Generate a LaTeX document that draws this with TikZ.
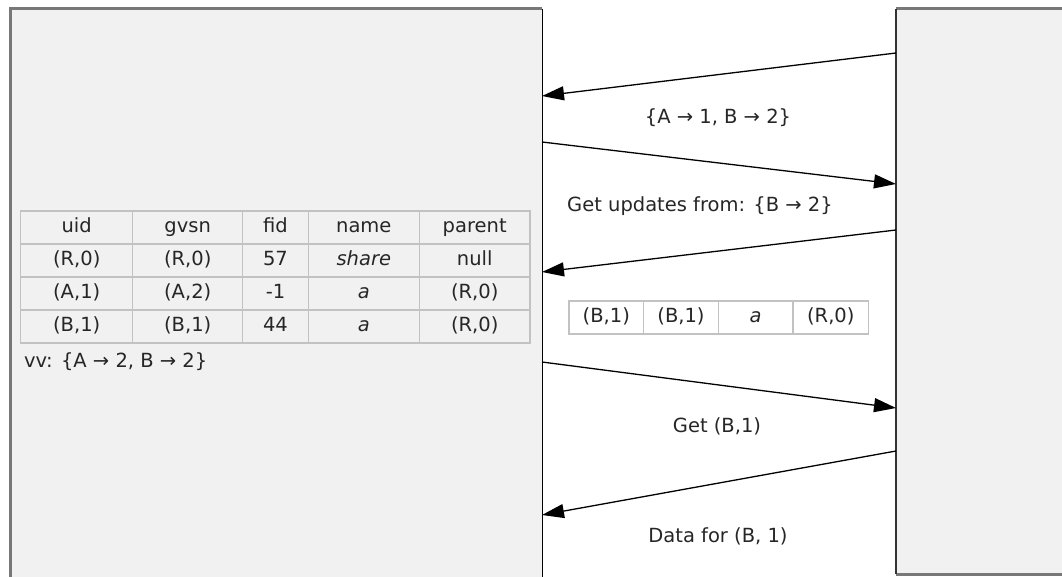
\documentclass[tikz,border=0pt]{standalone}
\usepackage{fontspec}
\setmainfont{DejaVu Sans}
\usetikzlibrary{arrows.meta}
\definecolor{boxfill}{HTML}{F1F1F1}
\definecolor{edgegray}{HTML}{787878}
\definecolor{cellline}{HTML}{C2C2C2}
\definecolor{txt}{HTML}{262626}
\tikzset{
  panel/.style={fill=boxfill, draw=none, inner sep=0pt, anchor=north west},
  cell/.style={draw=cellline, line width=1.5pt, fill=boxfill, inner sep=0pt, minimum height=33pt, text=txt, text height=14pt, text depth=4pt},
  scell/.style={cell, fill=white, minimum width=74.7pt},
  msg/.style={line width=1.3pt, -{Triangle[length=22pt,width=14pt]}},
  lbl/.style={text=txt, inner sep=0pt, text height=14pt, text depth=4pt}
}
\begin{document}
\begin{tikzpicture}[x=1pt,y=-1pt, font=\fontsize{19.5}{23}\selectfont]
\useasboundingbox (0,0) rectangle (1062,577);
\clip (0,0) rectangle (1062,577);
% panels
\node[panel, minimum width=532pt, minimum height=590pt] (client) at (10,9) {};
\node[panel, minimum width=180pt, minimum height=565pt] (server) at (896,9) {};
\draw[edgegray, line width=3pt] (client.south west) -- (client.north west) -- (client.north east);
\draw[black, line width=1.6pt] (client.north east) -- (client.south east);
\draw[edgegray, line width=3pt] (server.north west) -- (server.north east);
\draw[edgegray, line width=3pt] (server.south west) -- (server.south east);
\draw[black!80, line width=1.6pt] (server.north west) -- (server.south west);

% main table
\node[cell, minimum width=112pt] (h1) at (76.7,227.5) {uid};
\node[cell, minimum width=110pt] (h2) at (187.7,227.5) {gvsn};
\node[cell, minimum width=65.6pt] (h3) at (275.5,227.5) {fid};
\node[cell, minimum width=111pt] (h4) at (363.8,227.5) {name};
\node[cell, minimum width=110.7pt] (h5) at (474.7,227.5) {parent};

\node[cell, minimum width=112pt] (a1) at (76.7,260.5) {(R,0)};
\node[cell, minimum width=110pt] (a2) at (187.7,260.5) {(R,0)};
\node[cell, minimum width=65.6pt] (a3) at (275.5,260.5) {57};
\node[cell, minimum width=111pt] (a4) at (363.8,260.5) {\itshape share};
\node[cell, minimum width=110.7pt] (a5) at (474.7,260.5) {null};

\node[cell, minimum width=112pt] (b1) at (76.7,293.5) {(A,1)};
\node[cell, minimum width=110pt] (b2) at (187.7,293.5) {(A,2)};
\node[cell, minimum width=65.6pt] (b3) at (275.5,293.5) {-1};
\node[cell, minimum width=111pt] (b4) at (363.8,293.5) {\itshape a};
\node[cell, minimum width=110.7pt] (b5) at (474.7,293.5) {(R,0)};

\node[cell, minimum width=112pt] (c1) at (76.7,326.5) {(B,1)};
\node[cell, minimum width=110pt] (c2) at (187.7,326.5) {(B,1)};
\node[cell, minimum width=65.6pt] (c3) at (275.5,326.5) {44};
\node[cell, minimum width=111pt] (c4) at (363.8,326.5) {\itshape a};
\node[cell, minimum width=110.7pt] (c5) at (474.7,326.5) {(R,0)};

\node[lbl, anchor=west] (vv) at (24,362) {vv: \{A → 2, B → 2\}};

% small table
\node[scell] (s1) at (606.3,317.5) {(B,1)};
\node[scell] (s2) at (681,317.5) {(B,1)};
\node[scell] (s3) at (755.7,317.5) {\itshape a};
\node[scell, minimum width=75.6pt] (s4) at (830.8,317.5) {(R,0)};

% message endpoints
\coordinate (r1) at (896,53);
\coordinate (l1) at (542,96);
\coordinate (l2) at (542,142);
\coordinate (r2) at (896,184);
\coordinate (r3) at (896,230);
\coordinate (l3) at (542,272);
\coordinate (l4) at (542,362);
\coordinate (r4) at (896,408);
\coordinate (r5) at (896,451);
\coordinate (l5) at (542,515);

\draw[msg] (r1) -- (l1);
\draw[msg] (l2) -- (r2);
\draw[msg] (r3) -- (l3);
\draw[msg] (l4) -- (r4);
\draw[msg] (r5) -- (l5);

\node[lbl] (m1) at (718,119) {\{A → 1, B → 2\}};
\node[lbl] (m2) at (700,207) {Get updates from: \{B → 2\}};
\node[lbl] (m4) at (717,427) {Get (B,1)};
\node[lbl] (m5) at (718,537) {Data for (B, 1)};
\end{tikzpicture}
\end{document}
